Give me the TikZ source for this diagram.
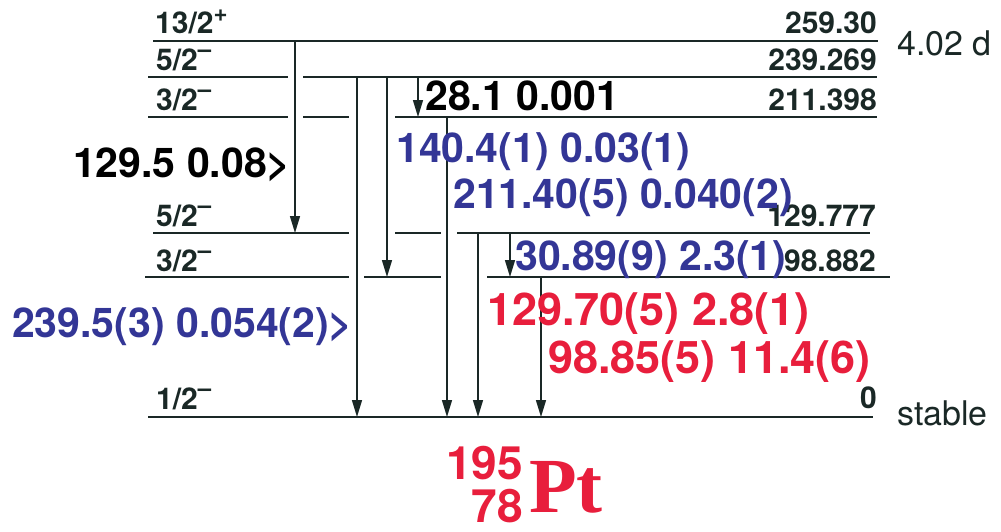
\documentclass[tikz,border=0pt]{standalone}
\usepackage{fontspec}
\setmainfont{TeX Gyre Heros}
\newfontfamily\ptfont{Liberation Serif}
\usetikzlibrary{arrows.meta}
\definecolor{lvl}{RGB}{26,40,38}
\definecolor{gblue}{RGB}{51,54,150}
\definecolor{gred}{RGB}{232,30,60}
\newcommand{\parneg}{\raisebox{0.42em}{\scalebox{0.8}{\textendash}}}
\newcommand{\parpos}{\raisebox{0.4em}{\scalebox{0.8}{+}}}

\begin{document}
\begin{tikzpicture}[
    x=1pt, y=-1pt,
    lvline/.style={draw=lvl, line width=2pt},
    trans/.style={draw=lvl, line width=1.4pt, -{Triangle[length=17pt, width=10pt]}},
    spin/.style={anchor=base west, inner sep=0pt, text=lvl, font=\bfseries\fontsize{30}{32}\selectfont},
    energy/.style={spin, anchor=base east},
    life/.style={anchor=base west, inner sep=0pt, text=lvl, font=\fontsize{34}{36}\selectfont},
    gam/.style={anchor=base west, inner sep=0pt, font=\bfseries\fontsize{41}{44}\selectfont},
    gamred/.style={gam, text=gred, font=\bfseries\fontsize{45}{48}\selectfont}
]
    \useasboundingbox (0,0) rectangle (1001,531);

    % levels
    \coordinate (e259) at (0,41);
    \coordinate (e239) at (0,77);
    \coordinate (e211) at (0,117);
    \coordinate (e130) at (0,233);
    \coordinate (e99) at (0,277);
    \coordinate (e0) at (0,417);

    \draw[lvline] (153,41) -- (878,41);
    \draw[lvline] (148,77) -- (288,77);
    \draw[lvline] (303,77) -- (877,77);
    \draw[lvline] (148,117) -- (288,117);
    \draw[lvline] (303,117) -- (349,117);
    \draw[lvline] (395,117) -- (877,117);
    \draw[lvline] (153,233) -- (349,233);
    \draw[lvline] (395,233) -- (441,233);
    \draw[lvline] (457,233) -- (870,233);
    \draw[lvline] (145,277) -- (349,277);
    \draw[lvline] (364,277) -- (441,277);
    \draw[lvline] (487,277) -- (890,277);
    \draw[lvline] (148,417) -- (873,417);

    \node[spin] (j259) at (155,33) {13/2\parpos};
    \node[spin] (j239) at (156,70) {5/2\parneg};
    \node[spin] (j211) at (156,110) {3/2\parneg};
    \node[spin] (j130) at (156,226) {5/2\parneg};
    \node[spin] (j99) at (156,271) {3/2\parneg};
    \node[spin] (j0) at (156,409) {1/2\parneg};

    \node[energy] (en259) at (877,33) {259.30};
    \node[energy] (en239) at (877,70) {239.269};
    \node[energy] (en211) at (877,110) {211.398};
    \node[energy] (en130) at (876,226) {129.777};
    \node[energy] (en99) at (876,271) {98.882};
    \node[energy] (en0) at (877,408) {0};

    \node[life] (hl259) at (897,55) {4.02 d};
    \node[life] (hl0) at (897,425) {stable};

    % transitions
    \coordinate (x129) at (295,0);
    \coordinate (x239) at (357,0);
    \coordinate (x140) at (387,0);
    \coordinate (x28) at (418,0);
    \coordinate (x211) at (447,0);
    \coordinate (x130) at (478,0);
    \coordinate (x31) at (510,0);
    \coordinate (x99) at (541,0);

    \draw[trans] (x129 |- e259) -- (x129 |- e130);
    \draw[trans] (x239 |- e239) -- (x239 |- e0);
    \draw[trans] (x140 |- e239) -- (x140 |- e99);
    \draw[trans] (x28 |- e239) -- (x28 |- e211);
    \draw[trans] (x211 |- e211) -- (x211 |- e0);
    \draw[trans] (x130 |- e130) -- (x130 |- e0);
    \draw[trans] (x31 |- e130) -- (x31 |- e99);
    \draw[trans] (x99 |- e99) -- (x99 |- e0);

    \node[gam, text=black] (t28) at (425,110) {28.1 0.001};
    \node[gam, text=black] (t129) at (73,177) {129.5 0.08>};
    \node[gam, text=gblue] (t140) at (396,162) {140.4(1) 0.03(1)};
    \node[gam, text=gblue] (t211) at (453,208) {211.40(5) 0.040(2)};
    \node[gam, text=gblue] (t31) at (515,270) {30.89(9) 2.3(1)};
    \node[gam, text=gblue] (t239) at (12,337) {239.5(3) 0.054(2)>};
    \node[gamred] (t130) at (487,325) {129.70(5) 2.8(1)};
    \node[gamred] (t99) at (548,373) {98.85(5) 11.4(6)};

    % nuclide
    \node[anchor=base east, inner sep=0pt, text=gred, font=\bfseries\fontsize{46}{48}\selectfont] (mass) at (523,479) {195};
    \node[anchor=base east, inner sep=0pt, text=gred, font=\bfseries\fontsize{46}{48}\selectfont] (charge) at (523,522) {78};
    \node[anchor=base west, inner sep=0pt, text=gred, font=\ptfont\bfseries\fontsize{78}{80}\selectfont] (sym) at (529,512) {Pt};
\end{tikzpicture}
\end{document}
